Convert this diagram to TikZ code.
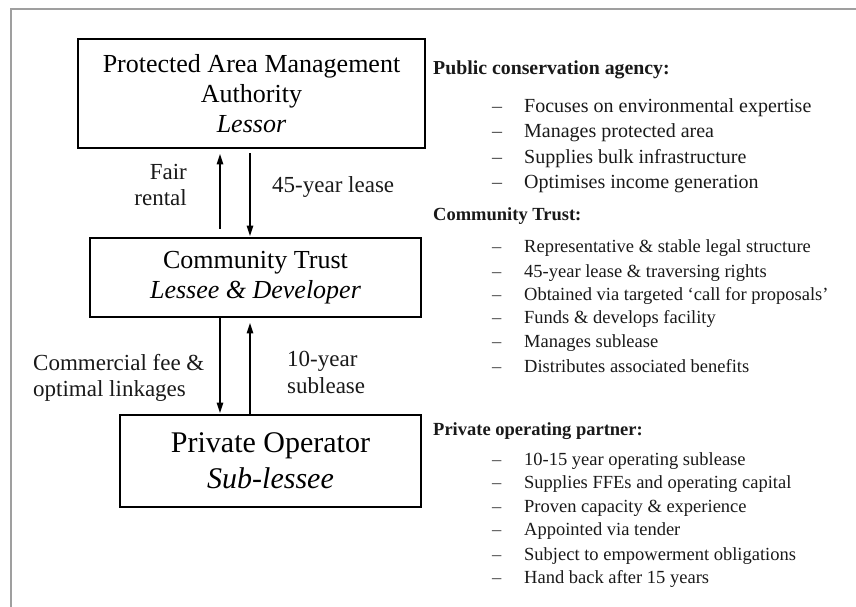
\documentclass[tikz,border=0pt]{standalone}
\usepackage{fontspec}
\setmainfont{Liberation Serif}
\usetikzlibrary{arrows.meta}
\begin{document}
\begin{tikzpicture}[x=1pt,y=-1pt,
  party/.style={draw=black, line width=2.6pt, align=center, inner sep=0pt, text=black},
  flow/.style={line width=2.4pt, -{Triangle[length=11pt,width=6pt]}},
  flowlabel/.style={inner sep=0pt, text=black!90, font=\fontsize{23}{26.5}\selectfont},
  heading/.style={anchor=base west, inner sep=0pt, text=black!90, font=\fontsize{18.5}{22}\selectfont\bfseries},
  item/.style={anchor=base west, inner sep=0pt, text=black!90},
  dashmark/.style={anchor=base west, inner sep=0pt, text=black!75}
]
\useasboundingbox (0,0) rectangle (856,607);
% outer frame, running past the page edges
\draw[gray!75, line width=1.8pt] (11,640) -- (11,9) -- (890,9);

% the three parties
\node[party, minimum width=347pt, minimum height=109pt, font=\fontsize{26}{30}\selectfont]
  (pama) at (251.5,93.5) {Protected Area Management\\Authority\\\textit{Lessor}};
\node[party, minimum width=331pt, minimum height=79pt, font=\fontsize{26}{30}\selectfont]
  (trust) at (255.5,277.5) {Community Trust\\\textit{Lessee \& Developer}};
\node[party, minimum width=301pt, minimum height=92pt, font=\fontsize{30}{36}\selectfont]
  (oper) at (270.5,461) {Private Operator\\\textit{Sub-lessee}};

% arrow columns
\coordinate (colL) at (220,0);
\coordinate (colR) at (250,0);

\draw[flow, shorten <=8pt, shorten >=4pt] (trust.north -| colL) -- (pama.south -| colL);
\draw[flow, shorten <=4pt] (pama.south -| colR) -- (trust.north -| colR);
\draw[flow] (trust.south -| colL) -- (oper.north -| colL);
\draw[flow, shorten >=4pt] (oper.north -| colR) -- (trust.south -| colR);

% arrow labels
\node[flowlabel, align=right, anchor=north east] (lrent) at (187,164) {Fair\\rental};
\node[flowlabel, anchor=base west] (llease) at (272,192) {45-year lease};
\node[flowlabel, align=left, anchor=north west] (lfee) at (33,354) {Commercial fee \&\\optimal linkages};
\node[flowlabel, align=left, anchor=north west] (lsub) at (287,351) {10-year\\sublease};

% role descriptions
\node[heading, font=\fontsize{19.8}{22}\selectfont\bfseries] (h1) at (433,75) {Public conservation agency:};
\foreach \y/\t [count=\i] in {113/Focuses on environmental expertise,
                    138/Manages protected area,
                    163/Supplies bulk infrastructure,
                    188/Optimises income generation}{
  \node[dashmark, font=\fontsize{20}{24}\selectfont] (da\i) at (492,\y) {–};
  \node[item, font=\fontsize{20}{24}\selectfont] (ta\i) at (524,\y) {\t};
}

\node[heading] (h2) at (433,220) {Community Trust:};
\foreach \y/\t [count=\i] in {252/Representative \& stable legal structure,
                    277/45-year lease \& traversing rights,
                    300/Obtained via targeted ‘call for proposals’,
                    323/Funds \& develops facility,
                    347/Manages sublease,
                    372/Distributes associated benefits}{
  \node[dashmark, font=\fontsize{18.5}{22}\selectfont] (db\i) at (492,\y) {–};
  \node[item, font=\fontsize{18.5}{22}\selectfont] (tb\i) at (524,\y) {\t};
}

\node[heading] (h3) at (433,435) {Private operating partner:};
\foreach \y/\t [count=\i] in {465/10-15 year operating sublease,
                    488/Supplies FFEs and operating capital,
                    512/Proven capacity \& experience,
                    535/Appointed via tender,
                    560/Subject to empowerment obligations,
                    583/Hand back after 15 years}{
  \node[dashmark, font=\fontsize{18.5}{22}\selectfont] (dc\i) at (492,\y) {–};
  \node[item, font=\fontsize{18.5}{22}\selectfont] (tc\i) at (524,\y) {\t};
}
\end{tikzpicture}
\end{document}
